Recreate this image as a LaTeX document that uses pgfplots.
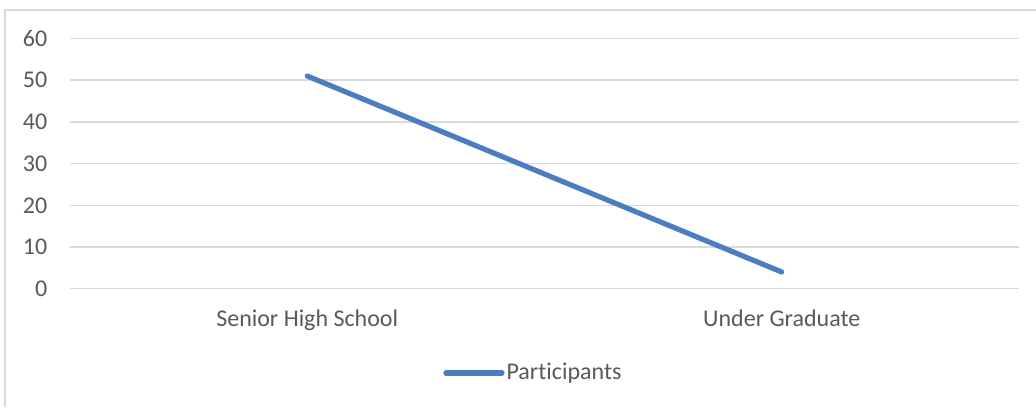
\documentclass[border=0pt]{standalone}
\usepackage{pgfplots}
\pgfplotsset{compat=1.18}
\usepackage{fontspec}
\setmainfont{Carlito}[Ligatures=NoCommon]
\definecolor{lineblue}{RGB}{74,126,193}
\definecolor{gridgray}{RGB}{217,217,217}
\definecolor{textgray}{RGB}{89,89,89}
\newcommand\chartfont{\fontsize{12pt}{14pt}\selectfont}
\begin{document}
\chartfont
\begin{tikzpicture}
\useasboundingbox (0,0) rectangle (518pt,203.5pt);
% chart frame (left and top edges)
\draw[gridgray, line width=0.75pt] (2.5pt,0pt) -- (2.5pt,198.5pt) -- (518pt,198.5pt);
\begin{axis}[
  at={(35pt,59.15pt)}, anchor=south west,
  scale only axis,
  width=474.5pt, height=125.1pt,
  xmin=-0.5, xmax=1.5,
  ymin=0, ymax=60,
  xtick={0,1},
  xticklabels={Senior High School, Under Graduate},
  ytick={0,10,...,60},
  axis line style={draw=none},
  ymajorgrids,
  grid style={gridgray, line width=0.75pt},
  major tick length=0pt,
  tick style={draw=none},
  /pgf/number format/assume math mode=true,
  tick label style={font=\chartfont, text=textgray},
  yticklabel style={anchor=east, inner sep=0pt, xshift=-11.2pt},
  xticklabel style={anchor=base, inner sep=0pt, yshift=-19pt},
  legend style={
    at={(0.393,-0.337)}, anchor=west,
    draw=none, fill=none, inner sep=0pt,
    font=\chartfont, text=textgray,
    nodes={inner sep=1pt},
  },
  legend image code/.code={
    \draw[#1, line width=2.6pt, line cap=round] (0pt,0pt) -- (28pt,0pt);
  },
  clip=false,
]
\addplot[color=lineblue, line width=2.6pt, line cap=round] coordinates {(0,51) (1,4)};
\addlegendentry{Participants}
\end{axis}
\end{tikzpicture}
\end{document}
